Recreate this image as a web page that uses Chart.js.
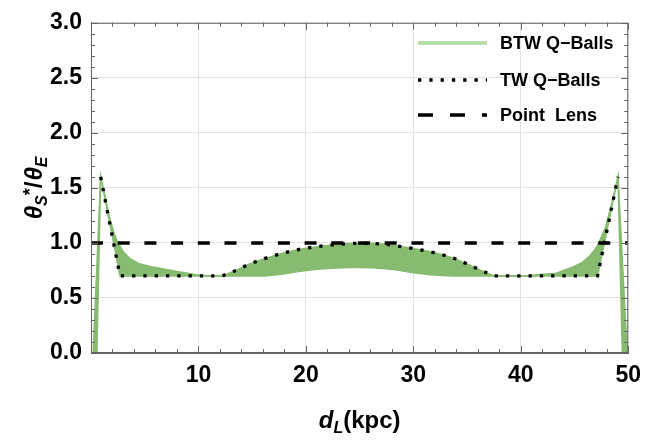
<!DOCTYPE html>
<html>
<head>
<meta charset="utf-8">
<script src="https://cdn.jsdelivr.net/npm/chart.js@4/dist/chart.umd.min.js"></script>
<style>
html,body{margin:0;padding:0;background:#fff;}
#wrap{width:650px;height:445px;}
</style>
</head>
<body>
<div id="wrap"><canvas id="c" width="650" height="445"></canvas></div>
<script>
// ---- data ----
const bandX    = [0.2, 0.55, 0.9, 1.3, 1.7, 2.1, 2.5, 2.7, 3.0, 3.6, 4.5, 5.5, 6.4, 8.0, 9.8, 11.0, 12.2, 13.5, 14.7, 16.2, 17.75, 19.3, 20.8, 22.4, 23.9, 25.0, 26.2, 27.4, 28.5, 30.0, 31.6, 32.8, 33.8, 35.0, 36.3, 37.5, 39.0, 40.5, 41.5, 43.3, 44.8, 45.7, 46.4, 46.9, 47.15, 47.25, 47.9, 48.5, 49.05, 49.45, 49.9];
const bandHigh = [0, 0.8, 1.6, 1.43, 1.24, 1.1, 1.0, 0.97, 0.92, 0.86, 0.81, 0.785, 0.77, 0.74, 0.71, 0.70, 0.70, 0.75, 0.806, 0.86, 0.905, 0.94, 0.964, 0.982, 0.994, 0.998, 0.996, 0.988, 0.973, 0.95, 0.92, 0.89, 0.86, 0.81, 0.75, 0.70, 0.70, 0.70, 0.71, 0.725, 0.78, 0.82, 0.88, 0.94, 0.98, 1.0, 1.145, 1.37, 1.6, 0.85, 0];
const bandLow  = [0, 0, 1.6, 1.4, 1.2, 1.0, 0.8, 0.70, 0.70, 0.70, 0.70, 0.70, 0.70, 0.70, 0.70, 0.70, 0.70, 0.70, 0.70, 0.70, 0.715, 0.74, 0.758, 0.77, 0.776, 0.777, 0.775, 0.765, 0.755, 0.728, 0.712, 0.705, 0.70, 0.70, 0.70, 0.70, 0.70, 0.70, 0.70, 0.70, 0.70, 0.70, 0.70, 0.70, 0.70, 0.747, 1.055, 1.34, 1.6, 0, 0];
const twX = [0.9, 2.7, 12.2, 13.5, 14.7, 16.2, 17.75, 19.3, 20.8, 22.4, 23.9, 25.0, 26.2, 27.4, 28.5, 30.0, 31.6, 32.8, 33.8, 35.0, 36.3, 37.5, 47.15, 49.05];
const twY = [1.6, 0.70, 0.70, 0.75, 0.806, 0.86, 0.905, 0.94, 0.964, 0.982, 0.994, 0.998, 0.996, 0.988, 0.973, 0.95, 0.92, 0.89, 0.86, 0.81, 0.75, 0.70, 0.70, 1.6];
const lensX = [0, 50];
const lensY = [1, 1];
const xTicks = [0, 10, 20, 30, 40, 50];
const yTicks = [0, 0.5, 1.0, 1.5, 2.0, 2.5, 3.0];
const legendLabels = ['BTW Q\u2212Balls', 'TW Q\u2212Balls', 'Point  Lens'];

const pts = (xs, ys) => xs.map((x, i) => ({x: x, y: ys[i]}));
const GREEN = '#86bb70';
const FONT = "'Liberation Sans', Arial, Helvetica, sans-serif";

const decor = {
  id: 'decor',
  afterDraw(chart) {
    const ctx = chart.ctx, a = chart.chartArea;
    const xs = chart.scales.x, ys = chart.scales.y;
    ctx.save();
    // frame
    ctx.strokeStyle = '#666';
    ctx.lineWidth = 1;
    ctx.strokeRect(a.left + 0.5, a.top + 0.5, a.right - a.left - 1, a.bottom - a.top - 1);
    // inward ticks
    ctx.beginPath();
    for (let v = 0; v <= 50; v += 2) {
      const px = Math.round(xs.getPixelForValue(v)) + 0.5;
      const len = (v % 10 === 0) ? 7 : 4;
      ctx.moveTo(px, a.bottom); ctx.lineTo(px, a.bottom - len);
      ctx.moveTo(px, a.top); ctx.lineTo(px, a.top + len);
    }
    for (let k = 0; k <= 30; k++) {
      const v = k / 10;
      const py = Math.round(ys.getPixelForValue(v)) + 0.5;
      const len = (k % 5 === 0) ? 7 : 4;
      ctx.moveTo(a.left, py); ctx.lineTo(a.left + len, py);
      ctx.moveTo(a.right, py); ctx.lineTo(a.right - len, py);
    }
    ctx.stroke();

    // legend
    const lx0 = 418, lx1 = 487, tx = 500;
    const rows = [43, 80, 115];
    ctx.lineCap = 'butt';
    ctx.strokeStyle = '#b9dcab'; ctx.lineWidth = 4; ctx.setLineDash([]);
    ctx.beginPath(); ctx.moveTo(lx0, rows[0]); ctx.lineTo(lx1, rows[0]); ctx.stroke();
    ctx.strokeStyle = '#000'; ctx.lineWidth = 3.3; ctx.setLineDash([3.3, 8]);
    ctx.beginPath(); ctx.moveTo(lx0, rows[1]); ctx.lineTo(lx1, rows[1]); ctx.stroke();
    ctx.lineWidth = 3.5; ctx.setLineDash([15, 17]);
    ctx.beginPath(); ctx.moveTo(lx0, rows[2]); ctx.lineTo(lx1, rows[2]); ctx.stroke();
    ctx.setLineDash([]);
    ctx.fillStyle = '#000';
    ctx.font = 'bold 18px ' + FONT;
    ctx.textBaseline = 'middle';
    ctx.textAlign = 'left';
    legendLabels.forEach((t, i) => ctx.fillText(t, tx, rows[i] + 1));

    // axis titles
    const drawRich = (parts, cx, by) => {
      let w = 0;
      parts.forEach(p => { ctx.font = p.f; p.w = ctx.measureText(p.t).width; w += p.w + (p.gap || 0); });
      let x = cx - w / 2;
      ctx.textAlign = 'left';
      ctx.textBaseline = 'alphabetic';
      parts.forEach(p => { ctx.font = p.f; ctx.fillText(p.t, x + (p.off || 0), by + (p.dy || 0)); x += p.w + (p.gap || 0); });
    };
    drawRich([
      {t: 'd', f: 'italic bold 24px ' + FONT},
      {t: 'L', f: 'italic bold 16px ' + FONT, dy: 5},
      {t: '(kpc)', f: 'bold 24px ' + FONT}
    ], (a.left + a.right) / 2, 428);

    ctx.save();
    ctx.translate(42, (a.top + a.bottom) / 2);
    ctx.rotate(-Math.PI / 2);
    drawRich([
      {t: '\u03B8', f: 'italic bold 24px ' + FONT},
      {t: 'S', f: 'italic bold 16px ' + FONT, dy: 5},
      {t: '*', f: 'bold 18px ' + FONT, dy: -6},
      {t: '/', f: 'bold 24px ' + FONT, gap: 1},
      {t: '\u03B8', f: 'italic bold 24px ' + FONT},
      {t: 'E', f: 'italic bold 16px ' + FONT, dy: 5}
    ], 0, 0);
    ctx.restore();
    ctx.restore();
  }
};

new Chart(document.getElementById('c'), {
  type: 'scatter',
  data: {
    datasets: [
      {label: 'low', data: pts(bandX, bandLow), showLine: true, borderColor: GREEN, borderWidth: 1.5, pointRadius: 0, fill: false, order: 3, tension: 0},
      {label: 'BTW Q-Balls', data: pts(bandX, bandHigh), showLine: true, borderColor: GREEN, borderWidth: 1.5, backgroundColor: GREEN, pointRadius: 0, fill: '-1', order: 2, tension: 0},
      {label: 'TW Q-Balls', data: pts(twX, twY), showLine: true, borderColor: '#000', borderWidth: 3.3, borderDash: [3.3, 8], borderCapStyle: 'butt', pointRadius: 0, fill: false, order: 1},
      {label: 'Point Lens', data: pts(lensX, lensY), showLine: true, borderColor: '#000', borderWidth: 3.5, borderDash: [12, 14.7], borderCapStyle: 'butt', pointRadius: 0, fill: false, order: 0}
    ]
  },
  options: {
    responsive: false,
    animation: false,
    devicePixelRatio: 1,
    layout: {padding: {top: 17, right: 18, left: 0, bottom: 0}},
    plugins: {legend: {display: false}, tooltip: {enabled: false}},
    scales: {
      x: {
        type: 'linear', min: 0, max: 50,
        afterFit: s => { s.height = 92; },
        afterBuildTicks: s => { s.ticks = xTicks.map(v => ({value: v})); },
        ticks: {autoSkip: false, maxRotation: 0, padding: 9, color: '#000', font: {family: FONT, size: 23, weight: 'bold'},
          callback: v => v === 0 ? '' : String(v)},
        grid: {color: '#e3e3e3', lineWidth: 1, drawTicks: false},
        border: {display: true, color: '#666'}
      },
      y: {
        type: 'linear', min: 0, max: 3,
        afterFit: s => { s.width = 91; },
        afterBuildTicks: s => { s.ticks = yTicks.map(v => ({value: v})); },
        ticks: {autoSkip: false, padding: 9, color: '#000', font: {family: FONT, size: 23, weight: 'bold'},
          callback: v => Number(v).toFixed(1)},
        grid: {color: '#e3e3e3', lineWidth: 1, drawTicks: false},
        border: {display: true, color: '#666'}
      }
    }
  },
  plugins: [decor]
});
</script>
</body>
</html>
